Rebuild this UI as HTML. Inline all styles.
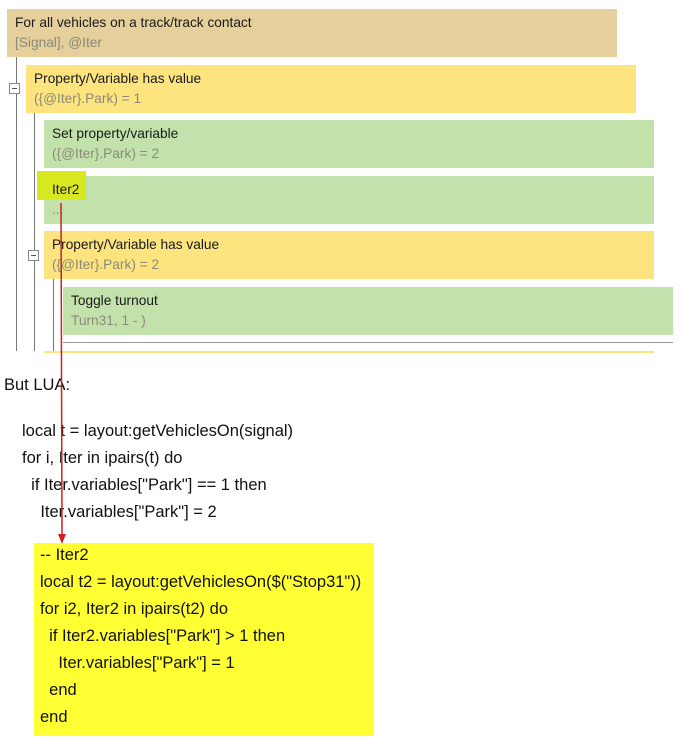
<!DOCTYPE html>
<html><head><style>
body{margin:0;width:695px;height:750px;background:#fff;position:relative;overflow:hidden;font-family:"Liberation Sans",sans-serif}
.b{position:absolute;height:48px;font-size:13.7px;color:#1a1a1a}
.b .t{position:absolute;left:8px;top:6px}
.b .s{position:absolute;left:8px;top:26px;color:#8a8a7a}
.tan{background:#e5cf9b}.yel{background:#fde47f}.grn{background:#c3e2ab}
.vl{position:absolute;width:1px;background:#777}
.mb{position:absolute;width:9px;height:9px;border:1px solid #888;background:#fff}
.mb:after{content:"";position:absolute;left:2px;top:4px;width:5px;height:1px;background:#555}
.c{position:absolute;font-size:16.5px;color:#111;white-space:pre;line-height:27px}
</style></head><body>
<div class="b tan" style="left:7px;top:9px;width:610px"><span class="t">For all vehicles on a track/track contact</span><span class="s">[Signal], @Iter</span></div>
<div class="b yel" style="left:26px;top:65px;width:610px"><span class="t">Property/Variable has value</span><span class="s">({@Iter}.Park) = 1</span></div>
<div class="b grn" style="left:44px;top:120px;width:610px"><span class="t">Set property/variable</span><span class="s">({@Iter}.Park) = 2</span></div>
<div class="b grn" style="left:44px;top:176px;width:610px"></div>
<div style="position:absolute;left:37px;top:171px;width:49px;height:29px;background:#d8e820"></div>
<div class="b" style="left:44px;top:176px;width:610px"><span class="t">Iter2</span><span class="s">...</span></div>
<div class="b yel" style="left:44px;top:231px;width:610px"><span class="t">Property/Variable has value</span><span class="s">({@Iter}.Park) = 2</span></div>
<div class="b grn" style="left:63px;top:287px;width:610px"><span class="t">Toggle turnout</span><span class="s">Turn31, 1 - )</span></div>
<div style="position:absolute;left:63px;top:342px;width:610px;height:1px;background:#999"></div>
<div style="position:absolute;left:44px;top:351px;width:610px;height:2px;background:#fde47f"></div>
<div class="vl" style="left:16px;top:57px;height:294px"></div>
<div class="vl" style="left:34px;top:113px;height:238px"></div>
<div class="vl" style="left:53px;top:279px;height:72px"></div>
<div class="mb" style="left:9px;top:83px"></div>
<div class="mb" style="left:28px;top:250px"></div>
<div class="c" style="left:4px;top:372px">But LUA:</div>
<div class="c" style="left:22px;top:418px">local t = layout:getVehiclesOn(signal)
for i, Iter in ipairs(t) do
  if Iter.variables["Park"] == 1 then
    Iter.variables["Park"] = 2</div>
<div style="position:absolute;left:34px;top:543px;width:340px;height:193px;background:#ffff33"></div>
<div class="c" style="left:40px;top:542px">-- Iter2
local t2 = layout:getVehiclesOn($("Stop31"))
for i2, Iter2 in ipairs(t2) do
  if Iter2.variables["Park"] > 1 then
    Iter.variables["Park"] = 1
  end
end</div>
<svg style="position:absolute;left:0;top:0" width="695" height="750">
<line x1="61" y1="203" x2="62" y2="534" stroke="#d02020" stroke-width="1.5"/>
<polygon points="58,534 66,534 62,544" fill="#d02020"/>
</svg>
</body></html>
